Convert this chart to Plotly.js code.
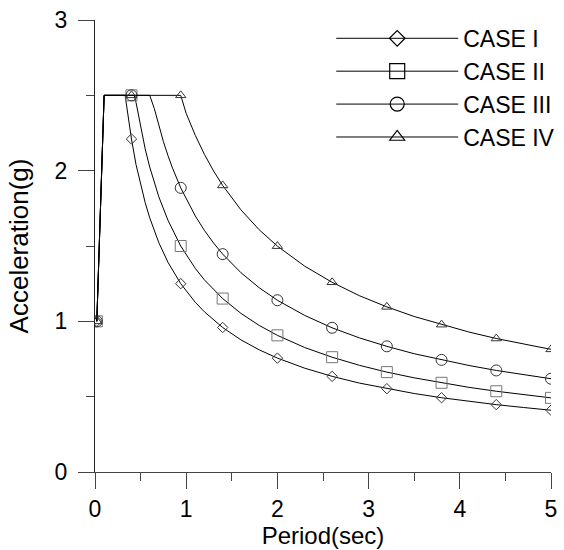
<!DOCTYPE html>
<html>
<head>
<meta charset="utf-8">
<script src="https://cdn.plot.ly/plotly-3.0.1.min.js"></script>
<style>html,body{margin:0;padding:0;background:#fff;}#chart{width:564px;height:550px;}</style>
</head>
<body>
<div id="chart"></div>
<script>
// Period (sec) and spectral acceleration (g)
var caseNames = ["CASE I", "CASE II", "CASE III", "CASE IV"];

var periodI   = [0.02, 0.1, 0.33, 0.36, 0.4, 0.45, 0.5, 0.55, 0.6, 0.7, 0.8, 0.94, 1.1, 1.2, 1.4, 1.6, 1.8, 2.0, 2.3, 2.6, 2.9, 3.2, 3.5, 3.8, 4.1, 4.4, 4.7, 5.0];
var accelI    = [1.0, 2.5, 2.5, 2.37, 2.21, 2.04, 1.905, 1.788, 1.687, 1.522, 1.392, 1.25, 1.126, 1.063, 0.959, 0.877, 0.811, 0.756, 0.689, 0.635, 0.590, 0.553, 0.521, 0.493, 0.469, 0.447, 0.428, 0.410];

var periodII  = [0.02, 0.1, 0.4, 0.43, 0.45, 0.5, 0.55, 0.6, 0.7, 0.8, 0.94, 1.1, 1.2, 1.4, 1.6, 1.8, 2.0, 2.3, 2.6, 2.9, 3.2, 3.5, 3.8, 4.1, 4.4, 4.7, 5.0];
var accelII   = [1.0, 2.5, 2.5, 2.5, 2.452, 2.286, 2.145, 2.024, 1.826, 1.671, 1.50, 1.351, 1.275, 1.151, 1.053, 0.973, 0.907, 0.826, 0.762, 0.708, 0.663, 0.625, 0.592, 0.562, 0.536, 0.513, 0.492];

var periodIII = [0.02, 0.1, 0.4, 0.6, 0.65, 0.7, 0.75, 0.8, 0.85, 0.94, 1.1, 1.2, 1.3, 1.4, 1.6, 1.8, 2.0, 2.3, 2.6, 2.9, 3.2, 3.5, 3.8, 4.1, 4.4, 4.7, 5.0];
var accelIII  = [1.0, 2.5, 2.5, 2.5, 2.413, 2.296, 2.193, 2.100, 2.017, 1.886, 1.699, 1.603, 1.520, 1.446, 1.323, 1.223, 1.140, 1.039, 0.957, 0.890, 0.834, 0.785, 0.744, 0.707, 0.674, 0.645, 0.619];

var periodIV  = [0.02, 0.1, 0.4, 0.94, 1.0, 1.1, 1.2, 1.3, 1.4, 1.6, 1.8, 2.0, 2.3, 2.6, 2.9, 3.2, 3.5, 3.8, 4.1, 4.4, 4.7, 5.0];
var accelIV   = [1.0, 2.5, 2.5, 2.5, 2.38, 2.234, 2.108, 1.998, 1.902, 1.740, 1.608, 1.499, 1.366, 1.259, 1.170, 1.096, 1.032, 0.978, 0.929, 0.886, 0.848, 0.814];

// periods at which symbols are drawn on every curve
var markerPeriods = [0.02, 0.4, 0.94, 1.4, 2.0, 2.6, 3.2, 3.8, 4.4, 5.0];

var xTickVals = [0, 1, 2, 3, 4, 5];
var yTickVals = [0, 1, 2, 3];

var periods = [periodI, periodII, periodIII, periodIV];
var accels = [accelI, accelII, accelIII, accelIV];
var symbols = ["diamond-open", "square-open", "circle-open", "triangle-up-open"];
var plotSizes = [8, 11, 11, 9];
var plotColors = ["#333", "#777", "#333", "#333"];
var legendSizes = [12, 15, 14, 13];

var FONT = "Liberation Sans, Arial, Helvetica, sans-serif";
var traces = [];
for (var i = 0; i < 4; i++) {
  var xs = periods[i], ys = accels[i];
  traces.push({
    x: xs, y: ys, type: "scatter", mode: "lines",
    line: {color: "#000", width: 1}, showlegend: false, hoverinfo: "skip"
  });
  var mx = [], my = [];
  for (var k = 0; k < xs.length; k++) {
    if (markerPeriods.indexOf(xs[k]) >= 0) { mx.push(xs[k]); my.push(ys[k]); }
  }
  traces.push({
    x: mx, y: my, type: "scatter", mode: "markers",
    marker: {symbol: symbols[i], size: plotSizes[i], color: plotColors[i], line: {width: 1, color: plotColors[i]}},
    showlegend: false
  });
}
for (var j = 0; j < 4; j++) {
  traces.push({
    x: [null], y: [null], type: "scatter", mode: "lines+markers", name: caseNames[j],
    line: {color: "#000", width: 1},
    marker: {symbol: symbols[j], size: legendSizes[j], color: "#000", line: {width: 1.2, color: "#000"}},
    showlegend: true
  });
}

var layout = {
  width: 564, height: 550,
  margin: {l: 95, r: 13, t: 20, b: 78, autoexpand: false},
  paper_bgcolor: "#fff", plot_bgcolor: "#fff",
  font: {family: FONT, size: 23, color: "#000"},
  showlegend: true,
  legend: {
    x: 0.518, y: 1.007, xanchor: "left", yanchor: "top",
    font: {family: FONT, size: 23, color: "#000"},
    itemwidth: 122, bgcolor: "rgba(0,0,0,0)", borderwidth: 0,
    tracegroupgap: 0
  },
  xaxis: {
    range: [0, 5], tickvals: xTickVals, ticktext: xTickVals.map(String),
    ticks: "outside", ticklen: 16, tickwidth: 1, tickcolor: "#444",
    showline: true, linecolor: "#444", linewidth: 1,
    showgrid: false, zeroline: false, mirror: false,
    minor: {dtick: 0.5, tick0: 0, ticks: "outside", ticklen: 8, tickwidth: 1, tickcolor: "#444", showgrid: false},
    tickfont: {family: FONT, size: 23, color: "#000"},
    ticklabelstandoff: 0,
    title: {text: "Period(sec)", font: {family: FONT, size: 24, color: "#000"}, standoff: 2}
  },
  yaxis: {
    range: [0, 3], tickvals: yTickVals, ticktext: yTickVals.map(String),
    ticks: "outside", ticklen: 16, tickwidth: 1, tickcolor: "#444",
    showline: true, linecolor: "#222", linewidth: 1,
    showgrid: false, zeroline: false, mirror: false,
    minor: {dtick: 0.5, tick0: 0, ticks: "outside", ticklen: 8, tickwidth: 1, tickcolor: "#444", showgrid: false},
    tickfont: {family: FONT, size: 23, color: "#000"},
    ticklabelstandoff: 6,
    title: {text: "Acceleration(g)", font: {family: FONT, size: 26, color: "#000"}, standoff: 18}
  }
};

Plotly.newPlot("chart", traces, layout, {displayModeBar: false, staticPlot: true});
</script>
</body>
</html>
